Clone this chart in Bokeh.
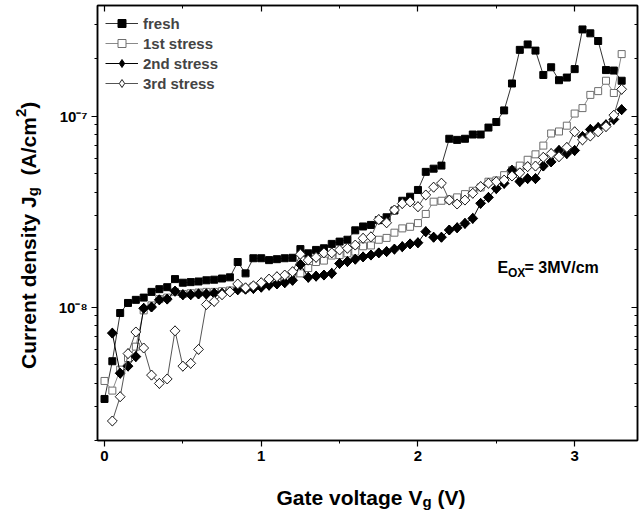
import math
from bokeh.plotting import figure
from bokeh.layouts import row, column
from bokeh.models import (FixedTicker, LinearAxis, LogAxis, Label, Legend, LegendItem,
                          CustomJSTickFormatter, Range1d, ColumnDataSource)
from bokeh.embed import file_html
from bokeh.resources import INLINE

# ---------------- data ----------------
VG = [0.00, 0.05, 0.10, 0.15, 0.20, 0.25, 0.30, 0.35, 0.40, 0.45,
      0.50, 0.55, 0.60, 0.65, 0.70, 0.75, 0.80, 0.85, 0.90, 0.95,
      1.00, 1.05, 1.10, 1.15, 1.20, 1.25, 1.30, 1.35, 1.40, 1.45,
      1.50, 1.55, 1.60, 1.65, 1.70, 1.75, 1.80, 1.85, 1.90, 1.95,
      2.00, 2.05, 2.10, 2.15, 2.20, 2.25, 2.30, 2.35, 2.40, 2.45,
      2.50, 2.55, 2.60, 2.65, 2.70, 2.75, 2.80, 2.85, 2.90, 2.95,
      3.00, 3.05, 3.10, 3.15, 3.20, 3.25, 3.30]

FRESH = [3.3e-9, 5.2e-9, 9.3e-9, 1.05e-8, 1.09e-8, 1.12e-8, 1.20e-8, 1.24e-8, 1.27e-8, 1.40e-8,
         1.34e-8, 1.35e-8, 1.36e-8, 1.38e-8, 1.39e-8, 1.41e-8, 1.43e-8, 1.72e-8, 1.50e-8, 1.80e-8,
         1.80e-8, 1.76e-8, 1.78e-8, 1.80e-8, 1.81e-8, 2.01e-8, 1.91e-8, 1.99e-8, 2.03e-8, 2.14e-8,
         2.20e-8, 2.25e-8, 2.52e-8, 2.64e-8, 2.69e-8, 2.85e-8, 2.95e-8, 3.20e-8, 3.60e-8, 3.78e-8,
         4.10e-8, 5.10e-8, 5.30e-8, 5.50e-8, 7.60e-8, 7.50e-8, 7.60e-8, 8.00e-8, 8.00e-8, 8.70e-8,
         9.30e-8, 1.07e-7, 1.48e-7, 2.22e-7, 2.37e-7, 2.20e-7, 1.64e-7, 1.80e-7, 1.54e-7, 1.59e-7,
         1.76e-7, 2.84e-7, 2.71e-7, 2.47e-7, 1.74e-7, 1.73e-7, 1.53e-7]

STRESS1 = [4.1e-9, 3.65e-9, 4.7e-9, 5.4e-9, 6.2e-9, 9.6e-9, 1.02e-8, 1.10e-8, 1.12e-8, 1.20e-8,
           1.17e-8, 1.18e-8, 1.19e-8, 1.20e-8, 1.20e-8, 1.21e-8, 1.22e-8, 1.27e-8, 1.25e-8, 1.28e-8,
           1.31e-8, 1.36e-8, 1.40e-8, 1.43e-8, 1.47e-8, 1.50e-8, 1.60e-8, 1.72e-8, 1.75e-8, 1.86e-8,
           1.87e-8, 1.91e-8, 1.95e-8, 2.08e-8, 2.10e-8, 2.25e-8, 2.30e-8, 2.45e-8, 2.58e-8, 2.63e-8,
           2.75e-8, 3.07e-8, 3.56e-8, 3.60e-8, 3.65e-8, 3.75e-8, 3.90e-8, 4.06e-8, 4.23e-8, 4.53e-8,
           4.60e-8, 4.90e-8, 5.20e-8, 5.50e-8, 5.90e-8, 6.30e-8, 7.00e-8, 8.10e-8, 8.30e-8, 8.90e-8,
           1.03e-7, 1.10e-7, 1.29e-7, 1.35e-7, 1.53e-7, 1.32e-7, 2.11e-7]

# 2nd and 3rd stress start at 0.05 V
STRESS2 = [7.3e-9, 4.5e-9, 4.9e-9, 5.5e-9, 9.85e-9, 1.00e-8, 1.09e-8, 1.10e-8, 1.21e-8,
           1.16e-8, 1.16e-8, 1.17e-8, 1.17e-8, 1.18e-8, 1.18e-8, 1.20e-8, 1.23e-8, 1.24e-8, 1.25e-8,
           1.27e-8, 1.30e-8, 1.32e-8, 1.34e-8, 1.38e-8, 1.67e-8, 1.43e-8, 1.45e-8, 1.47e-8, 1.50e-8,
           1.69e-8, 1.73e-8, 1.78e-8, 1.83e-8, 1.87e-8, 1.92e-8, 1.95e-8, 2.01e-8, 2.07e-8, 2.14e-8,
           2.17e-8, 2.48e-8, 2.32e-8, 2.32e-8, 2.53e-8, 2.60e-8, 2.74e-8, 2.91e-8, 3.49e-8, 3.75e-8,
           4.17e-8, 4.44e-8, 5.20e-8, 4.54e-8, 4.70e-8, 4.70e-8, 5.47e-8, 5.75e-8, 6.60e-8, 6.36e-8,
           6.60e-8, 7.80e-8, 8.50e-8, 8.70e-8, 9.00e-8, 9.60e-8, 1.08e-7]

STRESS3 = [2.53e-9, 3.39e-9, 5.7e-9, 7.4e-9, 6.1e-9, 4.4e-9, 3.98e-9, 4.2e-9, 7.5e-9,
           4.9e-9, 5.07e-9, 6.0e-9, 1.03e-8, 1.07e-8, 1.16e-8, 1.20e-8, 1.32e-8, 1.26e-8, 1.29e-8,
           1.34e-8, 1.40e-8, 1.44e-8, 1.47e-8, 1.53e-8, 1.89e-8, 1.76e-8, 1.82e-8, 1.92e-8, 1.92e-8,
           1.99e-8, 2.03e-8, 2.11e-8, 2.29e-8, 2.33e-8, 2.87e-8, 2.76e-8, 3.22e-8, 3.48e-8, 3.55e-8,
           3.35e-8, 3.86e-8, 4.24e-8, 4.45e-8, 3.63e-8, 3.46e-8, 3.63e-8, 3.94e-8, 4.27e-8, 4.45e-8,
           4.53e-8, 4.62e-8, 4.85e-8, 5.04e-8, 5.43e-8, 5.47e-8, 6.08e-8, 6.36e-8, 6.12e-8, 6.85e-8,
           8.27e-8, 7.50e-8, 7.86e-8, 8.27e-8, 8.80e-8, 1.01e-7, 1.38e-7]

X_TICKS = [0, 1, 2, 3]
X_MINOR = [0.5, 1.5, 2.5]
Y_TICKS = [1e-8, 1e-7]
Y_MINOR = [2e-9, 3e-9, 4e-9, 5e-9, 6e-9, 7e-9, 8e-9, 9e-9,
           2e-8, 3e-8, 4e-8, 5e-8, 6e-8, 7e-8, 8e-8, 9e-8, 2e-7, 3e-7]

FONT = "Liberation Sans"

# ---------------- main figure ----------------
p = figure(width=590, height=475,
           x_range=Range1d(-0.0447, 3.401), y_range=Range1d(2e-9, 3.79e-7),
           y_axis_type="log", output_backend="svg", toolbar_location=None,
           min_border_left=47, min_border_right=3, min_border_top=5, min_border_bottom=35)
p.xgrid.visible = False
p.ygrid.visible = False
p.outline_line_color = "black"
p.outline_line_width = 1.5
p.background_fill_color = "white"
p.border_fill_color = "white"

xt = FixedTicker(ticks=X_TICKS, minor_ticks=X_MINOR)
yt = FixedTicker(ticks=Y_TICKS, minor_ticks=Y_MINOR)

sup_code = """
const e = Math.round(Math.log10(tick));
const m = {'-':'\u207b','0':'\u2070','1':'\u00b9','2':'\u00b2','3':'\u00b3','4':'\u2074',
           '5':'\u2075','6':'\u2076','7':'\u2077','8':'\u2078','9':'\u2079'};
return '10' + String(e).split('').map(c => m[c]).join('');
"""


def style(ax, inward, labels):
    ax.axis_line_color = "black"
    ax.axis_line_width = 1.5
    ax.major_tick_line_color = "black"
    ax.minor_tick_line_color = "black"
    ax.major_tick_line_width = 1.2
    ax.minor_tick_line_width = 1
    if inward:
        ax.major_tick_in, ax.major_tick_out = 6, 0
        ax.minor_tick_in, ax.minor_tick_out = 3, 0
    else:
        ax.major_tick_in, ax.major_tick_out = 0, 6
        ax.minor_tick_in, ax.minor_tick_out = 0, 3
    if labels:
        ax.major_label_text_font = FONT
        ax.major_label_text_font_style = "bold"
        ax.major_label_text_font_size = "15px"
        ax.major_label_text_color = "black"
        ax.major_label_standoff = 4
    else:
        ax.major_label_text_font_size = "1px"
        ax.major_label_text_alpha = 0
        ax.major_label_standoff = 0


bx = p.below[0]
bx.ticker = xt
style(bx, False, True)
ly = p.left[0]
ly.ticker = yt
ly.formatter = CustomJSTickFormatter(code=sup_code)
style(ly, False, True)

tx = LinearAxis(ticker=xt)
style(tx, True, False)
p.add_layout(tx, "above")
ry = LogAxis(ticker=yt)
style(ry, True, False)
p.add_layout(ry, "right")

# ---------------- series ----------------
src2 = ColumnDataSource(dict(x=VG[1:], y=STRESS2))
src3 = ColumnDataSource(dict(x=VG[1:], y=STRESS3))

l_f = p.line(VG, FRESH, line_color="#333333", line_width=1)
s_f = p.scatter(VG, FRESH, marker="square", size=7, fill_color="black", line_color="black")
l_1 = p.line(VG, STRESS1, line_color="#8a8a8a", line_width=1)
s_1 = p.scatter(VG, STRESS1, marker="square", size=7, fill_color="white", line_color="#6e6e6e",
                line_width=1)
l_2 = p.line("x", "y", source=src2, line_color="black", line_width=1)
# narrow diamonds underneath (used for the legend glyph), covered by the rotated squares
d_2 = p.scatter("x", "y", source=src2, marker="diamond", size=10,
                fill_color="black", line_color="black")
s_2 = p.scatter("x", "y", source=src2, marker="square", angle=math.pi / 4, size=7,
                fill_color="black", line_color="black")
l_3 = p.line("x", "y", source=src3, line_color="#555555", line_width=1)
d_3 = p.scatter("x", "y", source=src3, marker="diamond", size=10,
                fill_color="white", line_color="#222222")
s_3 = p.scatter("x", "y", source=src3, marker="square", angle=math.pi / 4, size=7,
                fill_color="white", line_color="#222222", line_width=1)

legend = Legend(items=[LegendItem(label="fresh", renderers=[l_f, s_f]),
                       LegendItem(label="1st stress", renderers=[l_1, s_1]),
                       LegendItem(label="2nd stress", renderers=[l_2, d_2]),
                       LegendItem(label="3rd stress", renderers=[l_3, d_3])],
                location="top_left", border_line_alpha=0, background_fill_alpha=0,
                label_text_font=FONT, label_text_font_style="bold", label_text_font_size="15px",
                glyph_width=33, glyph_height=20, label_height=20, spacing=0,
                padding=6, margin=2, label_standoff=5)
p.add_layout(legend)


def lab(fig, text, x, y, size, angle=0.0):
    fig.add_layout(Label(x=x, y=y, x_units="screen", y_units="screen", text=text,
                         angle=angle, text_font=FONT, text_font_style="bold",
                         text_font_size=size, text_color="black",
                         text_align="left", text_baseline="alphabetic"))


# field annotation (inside the frame)
lab(p, "E", 400, 173, "16px")
lab(p, "OX", 410.5, 168, "12px")
lab(p, "= 3MV/cm", 427, 173, "16px")


# ---------------- axis-title strips ----------------
def strip(w, h):
    f = figure(width=w, height=h, x_range=Range1d(0, w), y_range=Range1d(0, h),
               output_backend="svg", toolbar_location=None,
               x_axis_location=None, y_axis_location=None,
               min_border_left=0, min_border_right=0, min_border_top=0, min_border_bottom=0)
    f.xgrid.visible = False
    f.ygrid.visible = False
    f.outline_line_color = None
    f.background_fill_color = "white"
    f.border_fill_color = "white"
    return f


A = math.pi / 2
yfig = strip(50, 511)
lab(yfig, "Current density J", 28, 142.5, "21px", A)
lab(yfig, "g", 32, 315.2, "15px", A)
lab(yfig, "(A/cm", 28, 336.1, "21px", A)
lab(yfig, "2", 20, 394.4, "15px", A)
lab(yfig, ")", 28, 402.7, "21px", A)

xfig = strip(590, 36)
lab(xfig, "Gate voltage V", 179, 14, "21px")
lab(xfig, "g", 324.9, 10, "15px")
lab(xfig, "(V)", 339.9, 14, "21px")

layout = row(yfig, column(p, xfig))

open("out.html", "w").write(file_html(layout, INLINE))
